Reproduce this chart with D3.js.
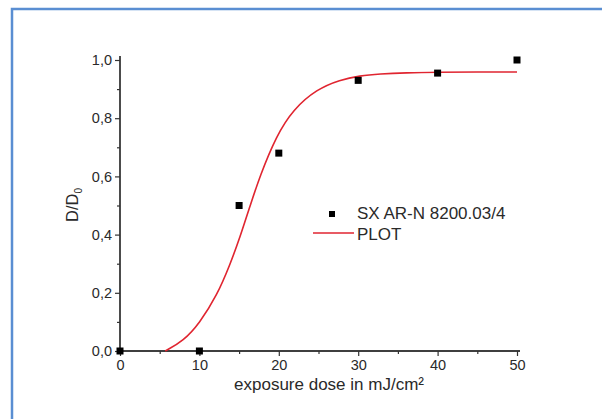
<!DOCTYPE html>
<html>
<head>
<meta charset="utf-8">
<script src="https://cdn.jsdelivr.net/npm/d3@7"></script>
<style>
  body { margin: 0; background: #fff; }
  text { font-family: "Liberation Sans", Arial, sans-serif; fill: #2a2a2a; }
</style>
</head>
<body>
<div id="chart"></div>
<script>
// measured points
const doseX = [0, 10, 15, 20, 30, 40, 50];
const ratioY = [0, 0, 0.5, 0.68, 0.93, 0.955, 1.0];

// fit curve
const fitX = [5.7, 8, 10, 12.2, 13.9, 15.1, 16.4, 17.6, 19.7, 21.8, 24.8, 27.7, 30.2, 32.7, 36, 40, 45, 50];
const fitY = [0, 0.035, 0.095, 0.19, 0.3, 0.39, 0.5, 0.6, 0.74, 0.83, 0.9, 0.932, 0.946, 0.952, 0.956, 0.958, 0.959, 0.959];

const xMajor = [0, 10, 20, 30, 40, 50];
const xMinor = [5, 15, 25, 35, 45];
const yMajor = [0, 0.2, 0.4, 0.6, 0.8, 1.0];
const yMinor = [0.1, 0.3, 0.5, 0.7, 0.9];

const W = 602, H = 419;
const svg = d3.select("#chart").append("svg")
    .attr("width", W)
    .attr("height", H);

// frame
svg.append("rect")
    .attr("x", 12).attr("y", 9)
    .attr("width", 620).attr("height", 440)
    .attr("fill", "none")
    .attr("stroke", "#5a8ed2")
    .attr("stroke-width", 2.5);

const x = d3.scaleLinear().domain([0, 50]).range([120, 517]);
const y = d3.scaleLinear().domain([0, 1]).range([351, 60]);
const fmt = d => d3.format(".1f")(d).replace(".", ",");

// x axis
const gx = svg.append("g").attr("transform", "translate(0,351)");
gx.call(d3.axisBottom(x).tickValues(xMajor).tickSize(5).tickPadding(4).tickFormat(d3.format("d")));
gx.append("g").call(d3.axisBottom(x).tickValues(xMinor).tickSize(3).tickFormat(""));
gx.selectAll(".domain").attr("d", "M120,0H520").attr("stroke", "#333").attr("stroke-width", 1.3);
gx.selectAll("line").attr("stroke", "#333").attr("stroke-width", 1.2);
gx.selectAll("text").attr("font-size", 14.5).style("font-family", "Liberation Sans, Arial, sans-serif").attr("fill", "#2a2a2a");

// y axis
const gy = svg.append("g").attr("transform", "translate(120,0)");
gy.call(d3.axisLeft(y).tickValues(yMajor).tickSize(5).tickPadding(3).tickFormat(fmt));
gy.append("g").call(d3.axisLeft(y).tickValues(yMinor).tickSize(3).tickFormat(""));
gy.selectAll(".domain").attr("d", "M0,351V56").attr("stroke", "#333").attr("stroke-width", 1.3);
gy.selectAll("line").attr("stroke", "#333").attr("stroke-width", 1.2);
gy.selectAll("text").attr("font-size", 14.5).style("font-family", "Liberation Sans, Arial, sans-serif").attr("fill", "#2a2a2a");

// axis titles
svg.append("text")
    .attr("x", 329).attr("y", 390)
    .attr("text-anchor", "middle")
    .attr("font-size", 17)
    .text("exposure dose in mJ/cm²");

const yt = svg.append("text")
    .attr("transform", "translate(78,205) rotate(-90)")
    .attr("text-anchor", "middle")
    .attr("font-size", 16.5);
yt.append("tspan").text("D/D");
yt.append("tspan").attr("font-size", 10).attr("dy", 4).text("0");

// fit line
const fit = fitX.map((d, i) => [d, fitY[i]]);
svg.append("path")
    .datum(fit)
    .attr("fill", "none")
    .attr("stroke", "#e02530")
    .attr("stroke-width", 1.6)
    .attr("d", d3.line().x(d => x(d[0])).y(d => y(d[1])).curve(d3.curveBasis));

// points
const pts = doseX.map((d, i) => [d, ratioY[i]]);
svg.selectAll("rect.pt")
    .data(pts)
    .join("rect")
    .attr("class", "pt")
    .attr("x", d => x(d[0]) - 3.5)
    .attr("y", d => y(d[1]) - 3.5)
    .attr("width", 7).attr("height", 7)
    .attr("fill", "#000");

// legend
const lg = svg.append("g");
lg.append("rect").attr("x", 329).attr("y", 211).attr("width", 6).attr("height", 6).attr("fill", "#000");
lg.append("text").attr("x", 357).attr("y", 219).attr("font-size", 17).text("SX AR-N 8200.03/4");
lg.append("line").attr("x1", 313).attr("x2", 354).attr("y1", 233).attr("y2", 233)
    .attr("stroke", "#e02530").attr("stroke-width", 1.6);
lg.append("text").attr("x", 357).attr("y", 240).attr("font-size", 17).text("PLOT");
</script>
</body>
</html>
